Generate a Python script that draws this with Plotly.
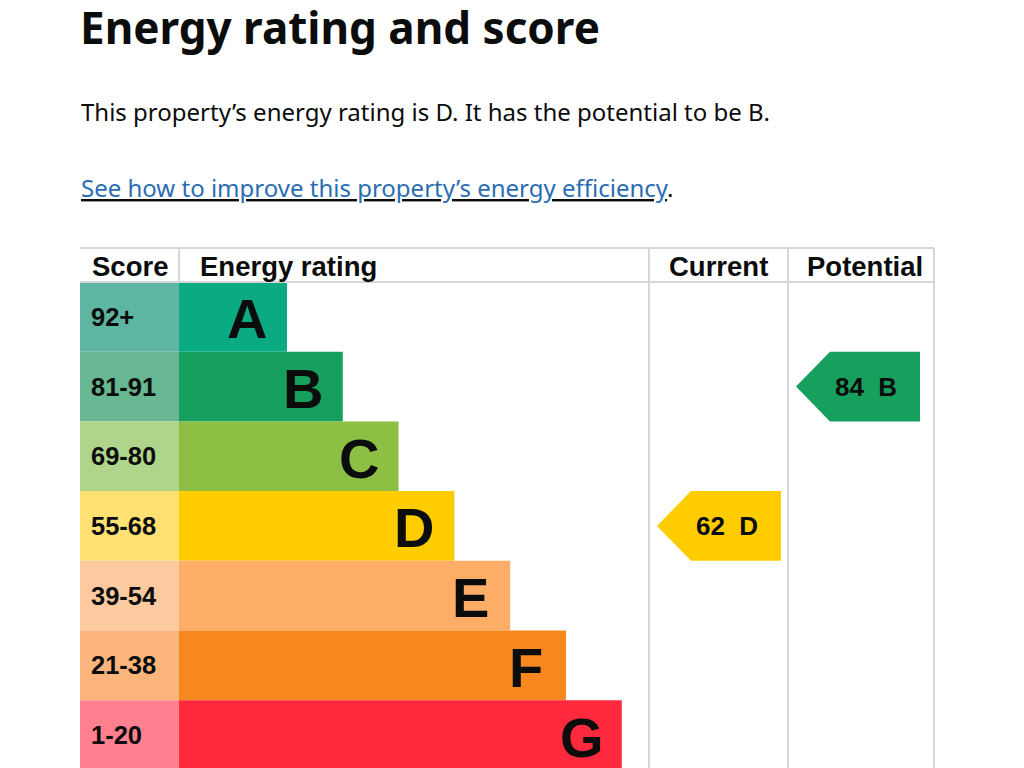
import plotly.graph_objects as go

# ---- data ----
bands = ["A", "B", "C", "D", "E", "F", "G"]
score_ranges = ["92+", "81-91", "69-80", "55-68", "39-54", "21-38", "1-20"]
band_min = [92, 81, 69, 55, 39, 21, 1]
bar_colors = ["#0aab82", "#17a05d", "#8dbf45", "#ffcc00", "#fdad65", "#f7871f", "#ff293e"]
score_colors = ["#5db5a2", "#67b793", "#afd58a", "#ffe173", "#fdcaa0", "#fbb47b", "#ff808f"]
current_score = 62
potential_score = 84
headers = ["Score", "Energy rating", "Current", "Potential"]

title = "Energy rating and score"
summary = "This property\u2019s energy rating is D. It has the potential to be B."
link_text = "See how to improve this property\u2019s energy efficiency"

# ---- layout geometry (pixel-like axis units) ----
W, H = 1024, 768
OFF = 8  # page body margin
left = 80
score_w = 99
bar_x0 = left + score_w
head_top, head_bot = 248, 282
row_h = 69.7
bar_len0, bar_step = 108, 55.8
col_cur = (649, 788)
col_pot = (788, 934)
arrow_w, arrow_tip = 124, 34
grid = "#d6d6d6"
txt = "#0b0c0c"
arial = "Liberation Sans, Arial, sans-serif"

centers = [head_bot + row_h * (i + 0.5) for i in range(len(bands))]
lengths = [bar_len0 + bar_step * i for i in range(len(bands))]


def band_index(score):
    for i, m in enumerate(band_min):
        if score >= m:
            return i
    return len(band_min) - 1


fig = go.Figure()

# score column cells
fig.add_trace(go.Bar(orientation="h", y=centers, x=[score_w] * len(bands), base=left,
                     width=row_h, marker=dict(color=score_colors, line_width=0),
                     hoverinfo="skip", showlegend=False))
# rating bars
fig.add_trace(go.Bar(orientation="h", y=centers, x=lengths, base=bar_x0,
                     width=row_h, marker=dict(color=bar_colors, line_width=0),
                     hoverinfo="skip", showlegend=False))

annotations = []
for i, b in enumerate(bands):
    annotations.append(dict(x=bar_x0 + lengths[i] - 40, y=centers[i] + 2, text=f"<b>{b}</b>",
                            showarrow=False, xanchor="center", yanchor="middle",
                            font=dict(family=arial, size=56, color=txt)))
    annotations.append(dict(x=left + 9, y=centers[i], text=f"<b>{score_ranges[i]}</b>",
                            showarrow=False, xanchor="left", yanchor="middle",
                            font=dict(family=arial, size=25.5, color=txt)))

# arrows for current / potential
for score, col in [(current_score, col_cur), (potential_score, col_pot)]:
    i = band_index(score)
    x0 = col[0] + 8
    x1 = x0 + arrow_w
    yc = centers[i]
    top = yc - row_h / 2
    bot = yc + row_h / 2
    fig.add_trace(go.Scatter(x=[x0, x0 + arrow_tip, x1, x1, x0 + arrow_tip, x0],
                             y=[yc, top, top, bot, bot, yc],
                             mode="lines", fill="toself", fillcolor=bar_colors[i],
                             line=dict(width=0, color=bar_colors[i]),
                             hoverinfo="skip", showlegend=False))
    annotations.append(dict(x=x0 + 70, y=yc, text=f"<b>{score}\u00a0\u00a0{bands[i]}</b>",
                            showarrow=False, xanchor="center", yanchor="middle",
                            font=dict(family=arial, size=26, color=txt)))

# headers
head_y = (head_top + head_bot) / 2
head_x = [left + 10, bar_x0 + 19, (col_cur[0] + col_cur[1]) / 2, (col_pot[0] + col_pot[1]) / 2 + 4]
head_anchor = ["left", "left", "center", "center"]
for h, x, a in zip(headers, head_x, head_anchor):
    annotations.append(dict(x=x, y=head_y + 1, text=f"<b>{h}</b>", showarrow=False,
                            xanchor=a, yanchor="middle",
                            font=dict(family=arial, size=27.5, color=txt)))

# page text
annotations.append(dict(x=left - 2, y=27, text=f"<b>{title}</b>", showarrow=False,
                        xanchor="left", yanchor="middle",
                        font=dict(family="Noto Sans, sans-serif", size=44, color=txt)))
annotations.append(dict(x=left - 1, y=111, text=summary, showarrow=False,
                        xanchor="left", yanchor="middle",
                        font=dict(family="Noto Sans, sans-serif", size=24, color=txt)))
annotations.append(dict(x=left - 1, y=187,
                        text=f"<u><span style='color:#2a6db3'>{link_text}</span></u>.",
                        showarrow=False, xanchor="left", yanchor="middle",
                        font=dict(family="Noto Sans, sans-serif", size=24, color=txt)))

# grid lines
shapes = [
    dict(type="line", x0=left, x1=col_pot[1], y0=head_top, y1=head_top, line=dict(color=grid, width=2)),
    dict(type="line", x0=left, x1=col_pot[1], y0=head_bot, y1=head_bot, line=dict(color=grid, width=2)),
    dict(type="line", x0=bar_x0, x1=bar_x0, y0=head_top, y1=head_bot, line=dict(color=grid, width=2)),
]
for x in [col_cur[0], col_cur[1], col_pot[1]]:
    shapes.append(dict(type="line", x0=x, x1=x, y0=head_top, y1=H + 10, line=dict(color=grid, width=2)))

fig.update_layout(
    width=W - OFF, height=H - OFF, margin=dict(l=0, r=0, t=0, b=0),
    paper_bgcolor="white", plot_bgcolor="white",
    xaxis=dict(range=[OFF, W], visible=False, fixedrange=True),
    yaxis=dict(range=[H, OFF], visible=False, fixedrange=True),
    annotations=annotations, shapes=shapes, barmode="overlay",
)

fig.write_html("out.html")
